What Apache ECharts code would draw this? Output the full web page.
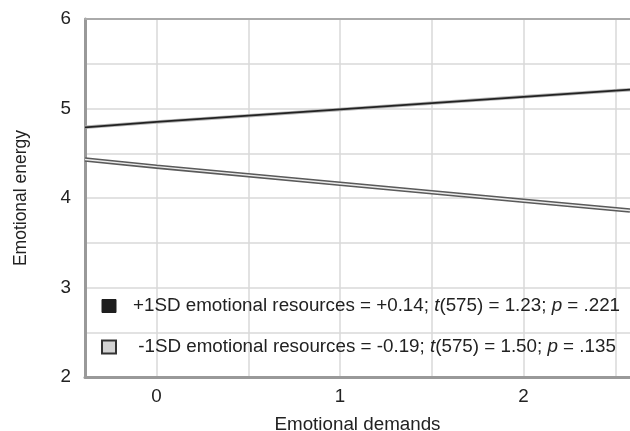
<!DOCTYPE html>
<html><head><meta charset="utf-8">
<script src="https://cdn.jsdelivr.net/npm/echarts@6/dist/echarts.min.js"></script>
<style>html,body{margin:0;padding:0;background:#fff}#c{width:630px;height:431px}</style>
</head><body><div id="c"></div>
<script>
var xValues = [-0.39, 0, 1, 2, 2.58];
var highResources = [4.79, 4.85, 4.99, 5.13, 5.21];
var lowResources = [4.43, 4.35, 4.16, 3.97, 3.86];
var xTickLabels = [0, 1, 2];
var xGridValues = [0, 0.5, 1, 1.5, 2, 2.5];
var yTickLabels = [2, 3, 4, 5, 6];
var seriesNames = ['+1SD', '-1SD'];

function pairs(ys){ return xValues.map(function(x,i){ return [x, ys[i]]; }); }
var font = 'Liberation Sans, Arial, sans-serif';
var fs = 18.8;
var chart = echarts.init(document.getElementById('c'));
chart.setOption({
  animation:false,
  grid:{left:85, right:0, top:19, bottom:54, containLabel:false, outerBoundsMode:'none'},
  xAxis:[{
    type:'value', min:-0.39, max:2.58,
    name:'Emotional demands', nameLocation:'middle', nameGap:38,
    nameTextStyle:{fontFamily:font, fontSize:fs, color:'#222'},
    axisLine:{show:true, onZero:false, lineStyle:{color:'#999', width:3}},
    axisTick:{show:false, customValues:xGridValues},
    axisLabel:{customValues:xTickLabels, fontFamily:font, fontSize:fs, color:'#222', margin:10},
    splitLine:{show:true, lineStyle:{color:'#d8d8d8', width:1.5}}
  },{
    type:'value', min:-0.39, max:2.58, position:'top',
    axisLine:{show:true, onZero:false, lineStyle:{color:'#aaa', width:2}},
    axisTick:{show:false}, axisLabel:{show:false}, splitLine:{show:false}
  }],
  yAxis:{
    type:'value', min:2, max:6, interval:0.5,
    name:'Emotional energy', nameLocation:'middle', nameGap:55, nameRotate:90,
    nameTextStyle:{fontFamily:font, fontSize:17.5, color:'#222'},
    axisLine:{show:true, onZero:false, lineStyle:{color:'#999', width:3}},
    axisTick:{show:false},
    axisLabel:{fontFamily:font, fontSize:fs, color:'#222', margin:14,
      formatter:function(v){ return yTickLabels.indexOf(v) >= 0 ? String(v) : ''; }},
    splitLine:{show:true, lineStyle:{color:'#d8d8d8', width:1.5}}
  },
  legend:{
    orient:'vertical', left:101, top:295, padding:0, itemWidth:14, itemHeight:13, itemGap:19,
    selectedMode:false,
    data:[
      {name:seriesNames[0], icon:'rect', itemStyle:{color:'#1e1e1e', borderColor:'#1e1e1e', borderWidth:1}},
      {name:seriesNames[1], icon:'rect', itemStyle:{color:'#d4d4d4', borderColor:'#333', borderWidth:2}}
    ],
    textStyle:{fontFamily:font, fontSize:fs, color:'#222', lineHeight:22, padding:[0,0,0,12],
      rich:{i:{fontFamily:font, fontSize:fs, fontStyle:'italic', color:'#222', lineHeight:22}}},
    formatter:function(n){
      if(n===seriesNames[0]) return '+1SD emotional resources = +0.14; {i|t}(575) = 1.23; {i|p} = .221';
      return ' -1SD emotional resources = -0.19; {i|t}(575) = 1.50; {i|p} = .135';
    }
  },
  series:[
    {name:seriesNames[1], type:'line', data:pairs(lowResources), symbol:'none', silent:true,
      lineStyle:{color:'#5a5a5a', width:4.5}, itemStyle:{color:'#d4d4d4'}, z:2},
    {name:'lowInner', type:'line', data:pairs(lowResources), symbol:'none', silent:true,
      lineStyle:{color:'#ebebeb', width:1.4}, z:3},
    {name:'highShadow', type:'line', data:pairs(highResources), symbol:'none', silent:true,
      lineStyle:{color:'#b5b5b5', width:3.5}, z:2},
    {name:seriesNames[0], type:'line', data:pairs(highResources), symbol:'none', silent:true,
      lineStyle:{color:'#222', width:1.8}, itemStyle:{color:'#1e1e1e'}, z:4}
  ]
});
</script></body></html>
